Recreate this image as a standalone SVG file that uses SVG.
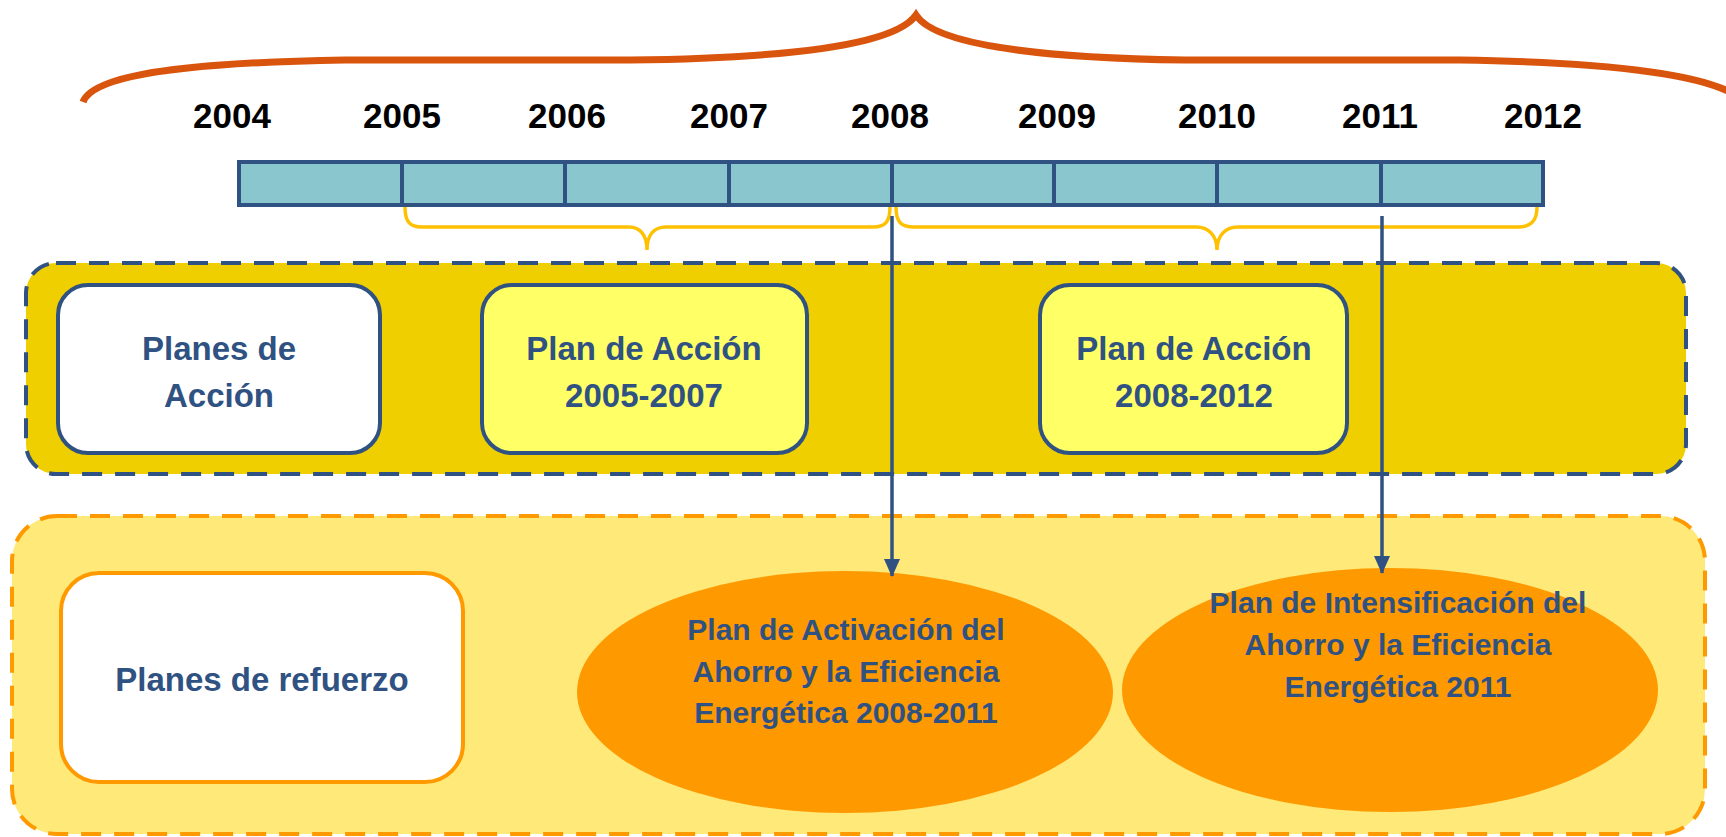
<svg xmlns="http://www.w3.org/2000/svg" width="1726" height="837" viewBox="0 0 1726 837">
<defs>
<marker id="arr" markerUnits="userSpaceOnUse" markerWidth="18" markerHeight="16" refX="17" refY="8" orient="auto" viewBox="0 0 18 16">
<path d="M0,0 L18,8 L0,16 Z" fill="#2F5282"/>
</marker>
<style>
.yr{font-family:"Liberation Sans",Arial,sans-serif;font-weight:bold;font-size:35px;fill:#000;text-anchor:middle}
.lbl{font-family:"Liberation Sans",Arial,sans-serif;font-weight:bold;font-size:33px;fill:#2F5282;text-anchor:middle}
.ell{font-family:"Liberation Sans",Arial,sans-serif;font-weight:bold;font-size:30px;fill:#2F5282;text-anchor:middle}
.cell{fill:#8AC6CE;stroke:#2F5282;stroke-width:4}
.ybrace{fill:none;stroke:#FFC000;stroke-width:3.5}
.conn{stroke:#2F5282;stroke-width:3.5;fill:none}
</style>
</defs>
<rect width="1726" height="837" fill="#fff"/>

<g id="big-brace">
<path d="M 83,102 C 95,70 220,62 345,60 L 630,60 C 790,58 895,45 916,15 C 935,45 1040,58 1185,60 L 1460,60 C 1600,62 1690,72 1730,92" fill="none" stroke="#D9540D" stroke-width="7" stroke-linejoin="miter"/>
</g>

<g id="years">
<text class="yr" x="232" y="128">2004</text>
<text class="yr" x="402" y="128">2005</text>
<text class="yr" x="567" y="128">2006</text>
<text class="yr" x="729" y="128">2007</text>
<text class="yr" x="890" y="128">2008</text>
<text class="yr" x="1057" y="128">2009</text>
<text class="yr" x="1217" y="128">2010</text>
<text class="yr" x="1380" y="128">2011</text>
<text class="yr" x="1543" y="128">2012</text>
</g>

<g id="timeline">
<rect class="cell" x="239" y="162" width="163" height="43"/>
<rect class="cell" x="402" y="162" width="163" height="43"/>
<rect class="cell" x="565" y="162" width="164" height="43"/>
<rect class="cell" x="729" y="162" width="163" height="43"/>
<rect class="cell" x="892" y="162" width="162" height="43"/>
<rect class="cell" x="1054" y="162" width="163" height="43"/>
<rect class="cell" x="1217" y="162" width="164" height="43"/>
<rect class="cell" x="1381" y="162" width="162" height="43"/>
</g>

<g id="period-braces">
<path class="ybrace" d="M 405,207 C 405,222 410,227 422,227 L 629,227 C 640,227 647,235 647,250 C 647,235 654,227 666,227 L 873,227 C 885,227 890,222 890,207"/>
<path class="ybrace" d="M 896,207 C 896,222 901,227 914,227 L 1196,227 C 1208,227 1217,235 1217,250 C 1217,235 1226,227 1238,227 L 1518,227 C 1530,227 1537,222 1537,207"/>
</g>

<g id="band-planes-accion">
<rect x="26" y="263" width="1660" height="211" rx="30" ry="30" fill="#F0CF00" stroke="#2F5282" stroke-width="4" stroke-dasharray="20 13"/>
</g>

<g id="band-refuerzo">
<rect x="12" y="516" width="1693" height="318" rx="45" ry="45" fill="#FFE979" stroke="#FF9900" stroke-width="4" stroke-dasharray="20 13"/>
</g>

<g id="node-planes-accion">
<rect x="58" y="285" width="322" height="168" rx="30" ry="30" fill="#fff" stroke="#2F5282" stroke-width="4"/>
<text class="lbl" x="219" y="360">Planes de</text>
<text class="lbl" x="219" y="407">Acción</text>
</g>

<g id="node-pa-2005-2007">
<rect x="482" y="285" width="325" height="168" rx="30" ry="30" fill="#FFFF66" stroke="#2F5282" stroke-width="4"/>
<text class="lbl" x="644" y="360">Plan de Acción</text>
<text class="lbl" x="644" y="407">2005-2007</text>
</g>

<g id="node-pa-2008-2012">
<rect x="1040" y="285" width="307" height="168" rx="30" ry="30" fill="#FFFF66" stroke="#2F5282" stroke-width="4"/>
<text class="lbl" x="1194" y="360">Plan de Acción</text>
<text class="lbl" x="1194" y="407">2008-2012</text>
</g>

<g id="node-planes-refuerzo">
<rect x="61" y="573" width="402" height="209" rx="38" ry="38" fill="#fff" stroke="#FF9900" stroke-width="4"/>
<text class="lbl" x="262" y="691">Planes de refuerzo</text>
</g>

<g id="node-activacion">
<ellipse cx="845" cy="692" rx="268" ry="121" fill="#FF9900"/>
<text class="ell" x="846" y="640">Plan de Activación del</text>
<text class="ell" x="846" y="682">Ahorro y la Eficiencia</text>
<text class="ell" x="846" y="723">Energética 2008-2011</text>
</g>

<g id="node-intensificacion">
<ellipse cx="1390" cy="690" rx="268" ry="122" fill="#FF9900"/>
<text class="ell" x="1398" y="613">Plan de Intensificación del</text>
<text class="ell" x="1398" y="655">Ahorro y la Eficiencia</text>
<text class="ell" x="1398" y="697">Energética 2011</text>
</g>

<g id="connectors">
<line class="conn" x1="892" y1="216" x2="892" y2="576" marker-end="url(#arr)"/>
<line class="conn" x1="1382" y1="216" x2="1382" y2="573" marker-end="url(#arr)"/>
</g>
</svg>
